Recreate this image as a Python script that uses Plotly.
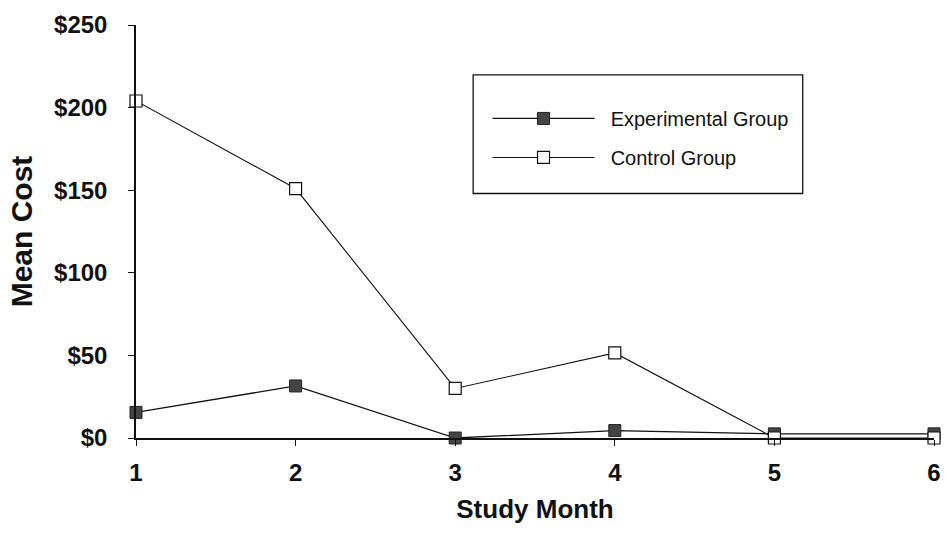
import plotly.graph_objects as go

months = [1, 2, 3, 4, 5, 6]
experimental = [15.5, 31.5, 0, 4.5, 2.5, 2.5]
control = [204, 151, 30, 51.5, 0, 0]
y_ticks = [0, 50, 100, 150, 200, 250]
y_tick_labels = ["$0", "$50", "$100", "$150", "$200", "$250"]

FONT = "Liberation Sans, Arial, sans-serif"
NB = "\u00a0"

fig = go.Figure()
fig.add_trace(go.Scatter(
    x=months, y=experimental, name=NB + NB + "Experimental Group", mode="lines+markers",
    line=dict(color="#111111", width=1.3),
    marker=dict(symbol="square", size=12, color="#444444", line=dict(color="#222222", width=1)),
    cliponaxis=False, legendgroup="e",
))
fig.add_trace(go.Scatter(
    x=months, y=control, name=NB + NB + "Control Group", mode="lines+markers",
    line=dict(color="#111111", width=1.1),
    marker=dict(symbol="square", size=12, color="white", line=dict(color="#111111", width=1.2)),
    cliponaxis=False, legendgroup="c",
))

# legend frame (decoration)
fig.add_shape(type="rect", xref="paper", yref="paper",
              x0=0.4225, x1=0.8355, y0=0.592, y1=0.879,
              line=dict(color="#111111", width=1.3), fillcolor="rgba(0,0,0,0)", layer="below")

fig.update_layout(
    width=952, height=537,
    margin=dict(l=136, r=11, t=21, b=99),
    paper_bgcolor="white", plot_bgcolor="white",
    font=dict(family=FONT, color="#111111"),
    showlegend=True,
    legend=dict(
        x=0.4405, y=0.821, xanchor="left", yanchor="top",
        borderwidth=0, bgcolor="rgba(0,0,0,0)",
        font=dict(family=FONT, size=20, color="#111111"),
        itemwidth=102, tracegroupgap=10,
    ),
    xaxis=dict(
        range=[1, 6], tickvals=months, ticktext=[str(m) for m in months],
        showgrid=False, zeroline=False, showline=True, linecolor="#111111", linewidth=1.5,
        ticks="outside", ticklen=6, tickcolor="#111111", tickwidth=1,
        tickfont=dict(family=FONT, size=24, color="#111111", weight="bold"),
        ticklabelstandoff=6,
        title=dict(text="Study Month", font=dict(family=FONT, size=26, color="#111111", weight="bold"), standoff=15),
    ),
    yaxis=dict(
        range=[0, 250], tickvals=y_ticks, ticktext=y_tick_labels,
        showgrid=False, zeroline=False, showline=True, linecolor="#111111", linewidth=1.5,
        ticks="outside", ticklen=6, tickcolor="#111111", tickwidth=1,
        tickfont=dict(family=FONT, size=24, color="#111111", weight="bold"),
        ticklabelstandoff=16,
        title=dict(text="Mean Cost", font=dict(family=FONT, size=30, color="#111111", weight="bold"), standoff=13),
    ),
    xaxis2=dict(
        overlaying="x", anchor="y", range=[1, 6], tickvals=months, showticklabels=False,
        showgrid=False, zeroline=False, showline=False,
        ticks="inside", ticklen=6, tickcolor="#111111", tickwidth=1, side="bottom",
    ),
    yaxis2=dict(
        overlaying="y", anchor="x", range=[0, 250], tickvals=y_ticks, showticklabels=False,
        showgrid=False, zeroline=False, showline=False,
        ticks="inside", ticklen=6, tickcolor="#111111", tickwidth=1, side="left",
    ),
)

fig.write_html("out.html")
